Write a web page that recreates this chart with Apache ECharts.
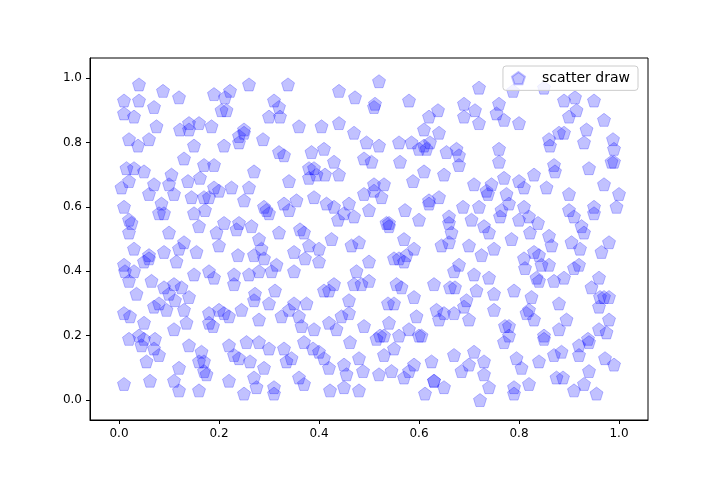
<html style="height: 100%">
<head>
	<meta charset="utf-8">
	<script type="text/javascript" src="https://cdn.jsdelivr.net/npm/echarts@6/dist/echarts.min.js"></script>
</head>
<body style="height: 100%; margin: 0; background: #fff">
	<div id="container" style="height:480px;width:720px"></div>
</body>
<script type="text/javascript">
	// points (approximate)
	var xs = [
		0.01,0.01,0.02,0.01,0.02,0.03,0.01,0.02,0.03,0.01,0.02,0.04,0.05,0.06,0.07,0.05,0.06,0.08,0.09,0.07,
		0.10,0.11,0.12,0.13,0.14,0.15,0.16,0.17,0.18,0.19,0.11,0.12,0.14,0.16,0.17,0.18,0.20,0.21,0.22,0.19,
		0.23,0.24,0.25,0.26,0.27,0.28,0.29,0.30,0.24,0.25,0.27,0.28,0.30,0.31,0.32,0.33,0.34,0.35,0.36,0.37,
		0.38,0.39,0.40,0.41,0.42,0.43,0.44,0.45,0.46,0.47,0.48,0.49,0.50,0.51,0.52,0.53,0.54,0.55,0.56,0.57,
		0.58,0.59,0.60,0.61,0.62,0.63,0.64,0.65,0.66,0.67,0.68,0.69,0.70,0.71,0.72,0.73,0.74,0.75,0.76,0.77,
		0.78,0.79,0.80,0.81,0.82,0.83,0.84,0.85,0.86,0.87,0.88,0.89,0.90,0.91,0.92,0.93,0.94,0.95,0.96,0.97,
		0.98,0.99,1.00,0.99,0.97,0.95,0.93,0.91,0.89,0.87,0.85,0.83,0.81,0.79,0.77,0.75,0.73,0.71,0.69,0.67,
		0.65,0.63,0.61,0.59,0.57,0.55,0.53,0.51,0.49,0.47,0.45,0.43,0.41,0.39,0.37,0.35,0.33,0.31,0.29,0.27,
		0.25,0.23,0.21,0.19,0.17,0.15,0.13,0.11,0.09,0.07,0.05,0.03,0.02,0.04,0.06,0.08,0.10,0.12,0.14,0.16,
		0.18,0.20,0.22,0.24,0.26,0.28,0.30,0.32,0.34,0.36,0.38,0.40,0.42,0.44,0.46,0.48,0.50,0.52,0.54,0.56,
		0.58,0.60,0.62,0.64,0.66,0.68,0.70,0.72,0.74,0.76,0.78,0.80,0.82,0.84,0.86,0.88,0.90,0.92,0.94,0.96,
		0.98,0.97,0.94,0.91,0.88,0.85,0.82,0.79,0.76,0.73,0.70,0.67,0.64,0.61,0.58,0.55,0.52,0.49,0.46,0.43,
		0.40,0.37,0.34,0.31,0.28,0.25,0.22,0.19,0.16,0.13,0.10,0.07,0.04,0.03,0.06,0.09,0.12,0.15,0.18,0.21,
		0.24,0.27,0.30,0.33,0.36,0.39,0.42,0.45,0.48,0.51,0.54,0.57,0.60,0.63,0.66,0.69,0.72,0.75,0.78,0.81,
		0.84,0.87,0.90,0.93,0.96,0.99,0.98,0.95,0.92,0.89,0.86,0.83,0.80,0.77,0.74,0.71,0.68,0.65,0.62,0.59,
		0.56,0.53,0.50,0.47,0.44,0.41,0.38,0.35,0.32,0.29,0.26,0.23,0.20,0.17,0.14,0.11,0.08,0.05,0.02,0.01,
		0.035,0.085,0.135,0.185,0.235,0.285,0.335,0.385,0.435,0.485,0.535,0.585,0.635,0.685,0.735,0.785,0.835,0.885,0.935,0.985,
		0.015,0.065,0.115,0.165,0.215,0.265,0.315,0.365,0.415,0.465,0.515,0.565,0.615,0.665,0.715,0.765,0.815,0.865,0.915,0.965,
		0.045,0.095,0.145,0.195,0.245,0.295,0.345,0.395,0.445,0.495,0.545,0.595,0.645,0.695,0.745,0.795,0.845,0.895,0.945,0.995,
		0.025,0.075,0.125,0.175,0.225,0.275,0.325,0.375,0.425,0.475,0.525,0.575,0.625,0.675,0.725,0.775,0.825,0.875,0.925,0.975,
		0.055,0.105,0.155,0.205,0.255,0.305,0.355,0.405,0.455,0.505,0.555,0.605,0.655,0.705,0.755,0.805,0.855,0.905,0.955,0.005,
		0.012,0.062,0.112,0.162,0.212,0.262,0.312,0.362,0.412,0.462,0.512,0.562,0.612,0.662,0.712,0.762,0.812,0.862,0.912,0.962,
		0.038,0.088,0.138,0.188,0.238,0.288,0.338,0.388,0.438,0.488,0.538,0.588,0.638,0.688,0.738,0.788,0.838,0.888,0.938,0.988,
		0.022,0.072,0.122,0.172,0.222,0.272,0.322,0.372,0.422,0.472,0.522,0.572,0.622,0.672,0.722,0.772,0.822,0.872,0.922,0.972
	];
	var ys = [
		0.93,0.60,0.37,0.05,0.81,0.47,0.27,0.56,0.72,0.89,0.52,0.98,0.24,0.81,0.29,0.43,0.64,0.14,0.35,0.91,
		0.52,0.06,0.94,0.75,0.32,0.58,0.86,0.12,0.40,0.66,0.22,0.47,0.84,0.03,0.63,0.27,0.48,0.79,0.17,0.95,
		0.36,0.55,0.02,0.98,0.71,0.25,0.44,0.88,0.13,0.62,0.07,0.50,0.30,0.93,0.77,0.16,0.59,0.40,0.85,0.05,
		0.69,0.22,0.47,0.78,0.10,0.36,0.96,0.58,0.27,0.83,0.03,0.64,0.43,0.67,0.99,0.14,0.54,0.30,0.80,0.07,
		0.93,0.47,0.20,0.71,0.62,0.36,0.83,0.04,0.55,0.14,0.42,0.88,0.25,0.67,0.97,0.08,0.52,0.33,0.78,0.18,
		0.61,0.04,0.86,0.44,0.28,0.70,0.12,0.97,0.51,0.37,0.22,0.93,0.64,0.03,0.42,0.80,0.18,0.58,0.29,0.87,
		0.49,0.11,0.64,0.78,0.32,0.93,0.05,0.57,0.38,0.73,0.20,0.46,0.60,0.02,0.87,0.28,0.54,0.15,0.92,0.40,
		0.70,0.06,0.84,0.32,0.50,0.16,0.67,0.91,0.23,0.57,0.04,0.74,0.34,0.63,0.18,0.46,0.76,0.02,0.60,0.31,
		0.83,0.14,0.55,0.38,0.09,0.79,0.28,0.64,0.46,0.16,0.71,0.40,0.19,0.93,0.45,0.30,0.67,0.03,0.86,0.54,
		0.24,0.65,0.06,0.82,0.39,0.18,0.58,0.91,0.28,0.07,0.72,0.43,0.24,0.86,0.61,0.13,0.37,0.79,0.55,0.20,
		0.09,0.56,0.88,0.25,0.49,0.76,0.11,0.60,0.38,0.92,0.23,0.68,0.05,0.45,0.81,0.30,0.59,0.14,0.72,0.38,
		0.25,0.67,0.09,0.41,0.83,0.19,0.57,0.34,0.74,0.12,0.48,0.27,0.63,0.79,0.22,0.44,0.08,0.75,0.31,0.60,
		0.15,0.52,0.68,0.04,0.40,0.84,0.26,0.73,0.12,0.49,0.33,0.67,0.20,0.88,0.44,0.58,0.10,0.39,0.63,0.27,
		0.80,0.45,0.16,0.61,0.26,0.72,0.34,0.11,0.49,0.65,0.24,0.43,0.78,0.06,0.57,0.29,0.86,0.47,0.20,0.66,
		0.37,0.14,0.88,0.52,0.22,0.74,0.32,0.60,0.17,0.83,0.42,0.25,0.56,0.69,0.04,0.39,0.73,0.27,0.61,0.11,
		0.44,0.20,0.59,0.36,0.70,0.13,0.48,0.30,0.52,0.10,0.66,0.39,0.28,0.73,0.17,0.36,0.58,0.19,0.68,0.42,
		0.33,0.61,0.24,0.85,0.53,0.47,0.12,0.77,0.22,0.36,0.55,0.80,0.28,0.09,0.65,0.50,0.38,0.15,0.84,0.74,
		0.72,0.37,0.43,0.15,0.90,0.54,0.42,0.23,0.61,0.48,0.19,0.35,0.78,0.52,0.34,0.59,0.27,0.48,0.90,0.46,
		0.17,0.28,0.63,0.52,0.28,0.59,0.13,0.70,0.26,0.80,0.09,0.26,0.48,0.31,0.67,0.13,0.42,0.25,0.35,0.60,
		0.55,0.85,0.35,0.08,0.66,0.04,0.26,0.30,0.50,0.40,0.63,0.45,0.12,0.78,0.45,0.64,0.32,0.07,0.54,0.21,
		0.12,0.70,0.46,0.90,0.18,0.40,0.62,0.85,0.08,0.74,0.36,0.20,0.77,0.56,0.89,0.10,0.66,0.49,0.02,0.66,
		0.40,0.06,0.31,0.69,0.94,0.12,0.34,0.53,0.70,0.18,0.92,0.74,0.02,0.35,0.90,0.57,0.41,0.79,0.94,0.32,
		0.79,0.96,0.68,0.23,0.45,0.81,0.98,0.16,0.56,0.09,0.30,0.68,0.90,0.60,0.64,0.96,0.55,0.07,0.19,0.81,
		0.26,0.19,0.84,0.59,0.96,0.33,0.88,0.44,0.03,0.94,0.20,0.59,0.80,0.35,0.00,0.23,0.52,0.71,0.47,0.13
	];

	var seriesData = xs.map(function (x, i) { return [x, ys[i]]; });

	var pentagon = 'path://M0,-1 L0.951,-0.309 L0.588,0.809 L-0.588,0.809 L-0.951,-0.309 Z';
	var font = 'DejaVu Sans';
	var ticks = [0, 0.2, 0.4, 0.6, 0.8, 1.0];

	var chart = echarts.init(document.getElementById('container'));
	chart.setOption({
		animation: false,
		textStyle: { fontFamily: font },
		grid: { left: 90, right: 72, top: 58, bottom: 60 },
		legend: {
			right: 82, top: 66,
			data: ['scatter draw'],
			padding: [5, 8],
			borderColor: '#ccc', borderWidth: 1, borderRadius: 3,
			backgroundColor: 'rgba(255,255,255,0.8)',
			itemWidth: 13, itemHeight: 13,
			textStyle: { fontSize: 14, color: '#000', fontFamily: font, padding: [0, 0, 0, 12] }
		},
		xAxis: {
			type: 'value', min: -0.058, max: 1.058,
			axisLine: { onZero: false, lineStyle: { color: '#000' } },
			axisTick: { show: true, customValues: ticks, length: 4, lineStyle: { color: '#000' } },
			axisLabel: { customValues: ticks, color: '#000', fontSize: 12, margin: 8,
				formatter: function (v) { return v.toFixed(1); } },
			splitLine: { show: false }
		},
		yAxis: {
			type: 'value', min: -0.062, max: 1.062,
			axisLine: { show: true, onZero: false, lineStyle: { color: '#000' } },
			axisTick: { show: true, customValues: ticks, length: 4, lineStyle: { color: '#000' } },
			axisLabel: { customValues: ticks, color: '#000', fontSize: 12, margin: 8,
				formatter: function (v) { return v.toFixed(1); } },
			splitLine: { show: false }
		},
		graphic: [
			{ type: 'rect', shape: { x: 90, y: 58, width: 558, height: 362 }, style: { fill: 'none', stroke: '#000', lineWidth: 1 }, silent: true }
		],
		series: [{
			name: 'scatter draw',
			type: 'scatter',
			symbol: pentagon,
			symbolSize: 13,
			itemStyle: { color: 'rgba(0,0,255,0.3)', borderColor: 'rgba(0,0,255,0.3)', borderWidth: 1 },
			data: seriesData
		}]
	});
</script>
</html>
